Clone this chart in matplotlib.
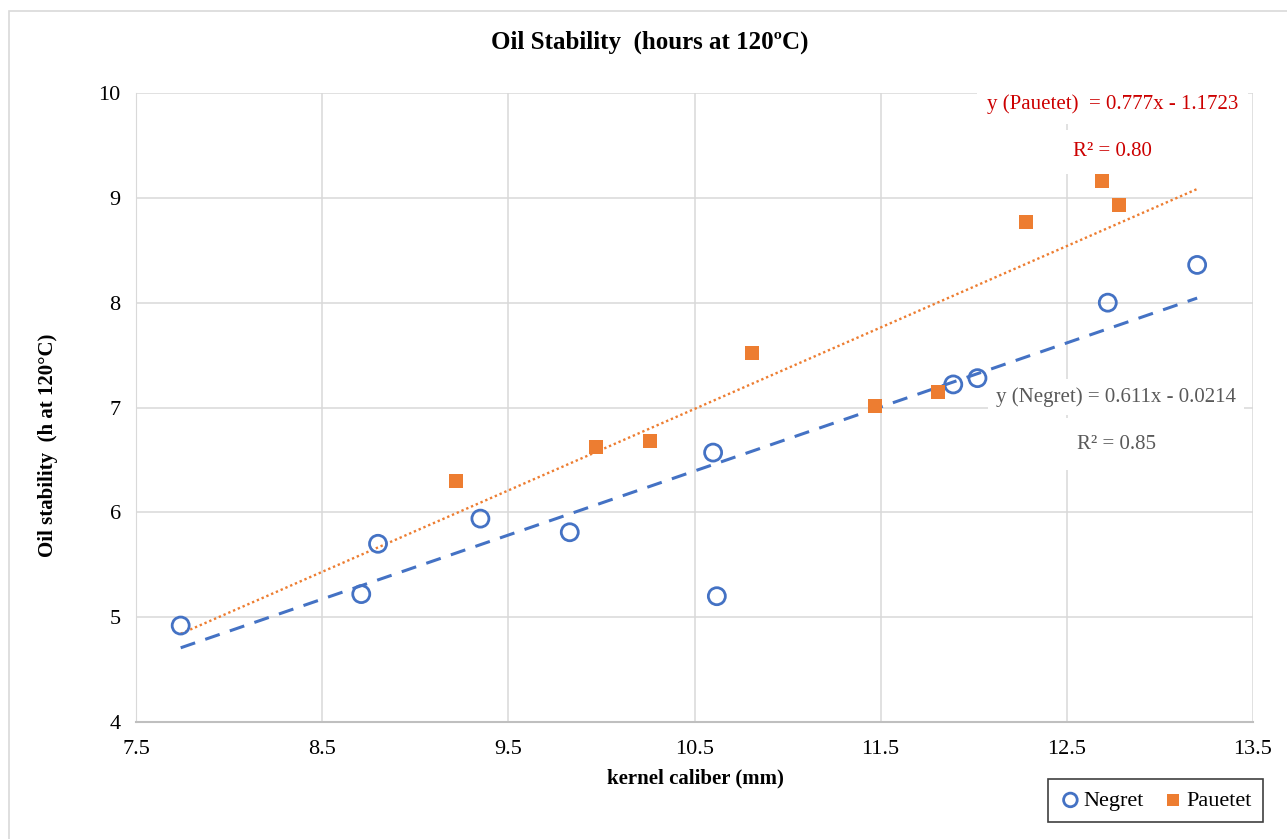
import matplotlib.pyplot as plt
import matplotlib.patches as mpatches
import numpy as np

plt.rcParams['font.family'] = ['Liberation Serif', 'DejaVu Serif']

# data
negret_x = [7.74, 8.71, 8.80, 9.35, 9.83, 10.60, 10.62, 11.89, 12.02, 12.72, 13.20]
negret_y = [4.92, 5.22, 5.70, 5.94, 5.81, 6.57, 5.20, 7.22, 7.28, 8.00, 8.36]
pauetet_x = [9.22, 9.97, 10.26, 10.81, 11.47, 11.81, 12.28, 12.69, 12.78]
pauetet_y = [6.30, 6.62, 6.68, 7.52, 7.01, 7.15, 8.77, 9.16, 8.93]

# trend line coefficients as printed on the chart
negret_fit = (0.611, -0.0214, 0.85)
pauetet_fit = (0.777, -1.1723, 0.80)
trend_x = [7.74, 13.20]

x_ticks = [7.5, 8.5, 9.5, 10.5, 11.5, 12.5, 13.5]
y_ticks = [4, 5, 6, 7, 8, 9, 10]

blue = '#4472C4'
orange = '#ED7D31'
red = '#CC0000'
grey_txt = '#595959'
grid_c = '#D9D9D9'

W, H = 1287, 839
fig = plt.figure(figsize=(W / 100, H / 100), dpi=100)
ax = fig.add_axes([136 / W, 1 - 722 / H, (1253 - 136) / W, (722 - 93) / H])

# outer chart frame
fig.patches.append(mpatches.Rectangle((9 / W, -0.1), 1.2, 1 - 11 / H + 0.1,
                                      transform=fig.transFigure, fill=False,
                                      edgecolor=grid_c, lw=1.2))

tx = np.array(trend_x)
ax.plot(tx, negret_fit[0] * tx + negret_fit[1], color=blue, lw=2.2,
        dashes=(5, 3.5), zorder=3)
ax.plot(tx, pauetet_fit[0] * tx + pauetet_fit[1], color=orange, lw=1.7,
        linestyle=(0, (1, 1.2)), zorder=3)

h1 = ax.scatter(negret_x, negret_y, s=150, facecolors='none', edgecolors=blue,
                linewidths=2, zorder=4, label='Negret')
h2 = ax.scatter(pauetet_x, pauetet_y, s=110, marker='s', color=orange,
                linewidths=0, zorder=4, label='Pauetet')

ax.set_xlim(7.5, 13.5)
ax.set_ylim(4, 10)
ax.set_xticks(x_ticks)
ax.set_xticklabels([str(v) for v in x_ticks])
ax.set_yticks(y_ticks)
ax.tick_params(length=0, labelsize=16, pad=11)
ax.tick_params(axis='x', pad=13)
ax.grid(True, color=grid_c, lw=1.1, zorder=0)
ax.set_axisbelow(True)
for s in ['top', 'right']:
    ax.spines[s].set_visible(False)
ax.spines['left'].set_color(grid_c)
ax.spines['bottom'].set_color('#BFBFBF')
ax.spines['bottom'].set_linewidth(1.5)

# equations (white boxes hide the grid, markers stay on top)
ax.text(12.07, 9.895, 'y (Pauetet)  = %.3fx - %.4f' % (pauetet_fit[0], -pauetet_fit[1]),
        color=red, fontsize=15, ha='left', va='center',
        bbox=dict(facecolor='white', edgecolor='none', pad=7), zorder=3.5)
ax.text(12.535, 9.44, 'R² = %.2f' % pauetet_fit[2], color=red, fontsize=15,
        ha='left', va='center', bbox=dict(facecolor='white', edgecolor='none', pad=9),
        zorder=3.5)
ax.text(12.12, 7.10, 'y (Negret) = %.3fx - %.4f' % (negret_fit[0], -negret_fit[1]),
        color=grey_txt, fontsize=15, ha='left', va='center',
        bbox=dict(facecolor='white', edgecolor='none', pad=6), zorder=3.5)
ax.text(12.555, 6.65, 'R² = %.2f' % negret_fit[2], color=grey_txt, fontsize=15,
        ha='left', va='center', bbox=dict(facecolor='white', edgecolor='none', pad=12),
        zorder=3.5)

fig.text(650 / W, 1 - 42 / H, 'Oil Stability  (hours at 120ºC)', fontsize=18,
         fontweight='bold', ha='center', va='center')
fig.text(695 / W, 1 - 778 / H, 'kernel caliber (mm)', fontsize=15,
         fontweight='bold', ha='center', va='center')
fig.text(48 / W, 1 - 445 / H, 'Oil stability  (h at 120°C)', fontsize=15,
         fontweight='bold', ha='center', va='center', rotation=90)

leg = ax.legend(handles=[h1, h2], loc='center', ncol=2,
                bbox_to_anchor=((1049 + 1262) / 2 / W, 1 - (775 + 826) / 2 / H),
                bbox_transform=fig.transFigure, fontsize=16, frameon=True,
                fancybox=False, edgecolor='#404040', framealpha=1,
                handletextpad=0.1, columnspacing=0.8, borderpad=0.5,
                handlelength=1.0, markerscale=0.8)
leg.get_frame().set_linewidth(1.2)

fig.savefig('out.png', dpi=100)
